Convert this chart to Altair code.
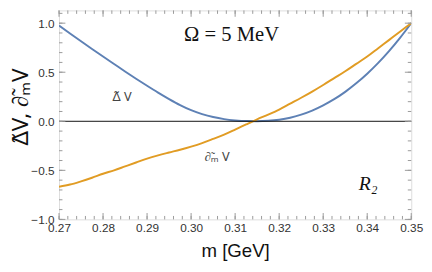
import altair as alt
import pandas as pd

# ---- data ----
m_gev = [0.270, 0.2725, 0.275, 0.2775, 0.280, 0.2825, 0.285, 0.2875, 0.290, 0.2925, 0.295, 0.2975,
         0.300, 0.3025, 0.305, 0.3075, 0.310, 0.3125, 0.315, 0.3175, 0.320, 0.3225, 0.325, 0.3275,
         0.330, 0.3325, 0.335, 0.3375, 0.340, 0.3425, 0.345, 0.3475, 0.350]
delta_v = [0.977, 0.895, 0.815, 0.737, 0.660, 0.584, 0.508, 0.434, 0.362, 0.292, 0.226, 0.165,
           0.113, 0.073, 0.043, 0.022, 0.009, 0.002, 0.001, 0.005, 0.016, 0.036, 0.068, 0.109,
           0.162, 0.225, 0.300, 0.387, 0.485, 0.595, 0.718, 0.853, 1.000]
dm_v = [-0.667, -0.645, -0.612, -0.575, -0.535, -0.500, -0.460, -0.420, -0.380, -0.347, -0.318, -0.290,
        -0.258, -0.222, -0.180, -0.136, -0.085, -0.032, 0.020, 0.068, 0.120, 0.180, 0.240, 0.303,
        0.370, 0.440, 0.510, 0.585, 0.660, 0.745, 0.830, 0.915, 1.000]

x_major = [0.27, 0.28, 0.29, 0.30, 0.31, 0.32, 0.33, 0.34, 0.35]
x_minor = [round(0.27 + 0.002 * i, 3) for i in range(41)]
y_major = [-1.0, -0.5, 0.0, 0.5, 1.0]
y_minor = [round(-1.0 + 0.1 * i, 1) for i in range(22)]

W, H = 359, 213
FRAME = "#9a9a9a"
BLUE = "#5E81B5"
ORANGE = "#E19C24"

curves = pd.DataFrame({
    "m": m_gev * 2,
    "v": delta_v + dm_v,
    "s": ["delta"] * len(m_gev) + ["dm"] * len(m_gev),
})

xs = alt.Scale(domain=[0.27, 0.35], nice=False, zero=False)
ys = alt.Scale(domain=[-1.0, 1.13], nice=False, zero=False)

base_axis_x = alt.Axis(values=x_major, format=".2f", ticks=False, domain=False, grid=False,
                       labelFont="Liberation Sans", labelFontSize=12, labelColor="#333",
                       labelPadding=3, title="m [GeV]", titleFont="Liberation Sans",
                       titleFontSize=19, titleFontWeight="normal", titleColor="#111",
                       titlePadding=9, labelFlush=False)
base_axis_y = alt.Axis(values=y_major, format=".1f", ticks=False, domain=False, grid=False,
                       labelFont="Liberation Sans", labelFontSize=12, labelColor="#333",
                       labelPadding=5, title="Δ̃V, ∂̃ₘV", titleFont="Noto Sans",
                       titleFontSize=23, titleFontWeight="normal", titleColor="#111",
                       titleX=-39, titleY=98, titleAlign="center", titleBaseline="middle",
                       titleAngle=270)

lines = alt.Chart(curves).mark_line(strokeWidth=2, interpolate="monotone", clip=True).encode(
    x=alt.X("m:Q", scale=xs, axis=base_axis_x),
    y=alt.Y("v:Q", scale=ys, axis=base_axis_y),
    color=alt.Color("s:N", scale=alt.Scale(domain=["delta", "dm"], range=[BLUE, ORANGE]), legend=None),
)

zero = alt.Chart(pd.DataFrame({"z": [0.0]})).mark_rule(color="#111", strokeWidth=1).encode(
    y=alt.Y("z:Q", scale=ys), x=alt.value(0), x2=alt.value(W))

def xticks(vals, length):
    d = pd.DataFrame({"t": vals})
    bot = alt.Chart(d).mark_rule(color=FRAME, strokeWidth=1).encode(
        x=alt.X("t:Q", scale=xs), y=alt.value(H), y2=alt.value(H - length))
    top = alt.Chart(d).mark_rule(color=FRAME, strokeWidth=1).encode(
        x=alt.X("t:Q", scale=xs), y=alt.value(0), y2=alt.value(length))
    return [bot, top]

def yticks(vals, length):
    d = pd.DataFrame({"t": vals})
    left = alt.Chart(d).mark_rule(color=FRAME, strokeWidth=1).encode(
        y=alt.Y("t:Q", scale=ys), x=alt.value(0), x2=alt.value(length))
    right = alt.Chart(d).mark_rule(color=FRAME, strokeWidth=1).encode(
        y=alt.Y("t:Q", scale=ys), x=alt.value(W), x2=alt.value(W - length))
    return [left, right]

tick_layers = xticks(x_minor, 3.5) + xticks(x_major, 6.5) + yticks(y_minor, 3.5) + yticks(y_major, 6.5)

omega = alt.Chart(pd.DataFrame({"t": ["Ω  = 5 MeV"]})).mark_text(
    font="Liberation Serif", fontSize=21, color="#111", align="center", baseline="middle").encode(
    text="t:N", x=alt.datum(0.3092, scale=xs), y=alt.datum(0.88, scale=ys))
lab_delta = alt.Chart(pd.DataFrame({"t": ["Δ̃ V"]})).mark_text(
    font="Noto Sans", fontSize=13, color="#444", align="center", baseline="middle").encode(
    text="t:N", x=alt.datum(0.2843, scale=xs), y=alt.datum(0.25, scale=ys))
lab_dm = alt.Chart(pd.DataFrame({"t": ["∂̃ₘ V"]})).mark_text(
    font="Noto Sans", fontSize=13, color="#444", align="center", baseline="middle").encode(
    text="t:N", x=alt.datum(0.3059, scale=xs), y=alt.datum(-0.36, scale=ys))
lab_r2 = alt.Chart(pd.DataFrame({"t": ["R₂"]})).mark_text(
    font="Liberation Serif", fontSize=20, fontStyle="italic", color="#111", align="center",
    baseline="middle").encode(
    text="t:N", x=alt.datum(0.3402, scale=xs), y=alt.datum(-0.64, scale=ys))

chart = alt.layer(lines, zero, *tick_layers, omega, lab_delta, lab_dm, lab_r2).properties(
    width=W, height=H,
    autosize=alt.AutoSizeParams(type="none"),
    padding={"left": 52, "top": 0, "right": 13, "bottom": 43},
).configure_view(stroke=FRAME, strokeWidth=1).configure(background="white")

chart.save("out.html", embed_options={"renderer": "svg", "actions": False})
